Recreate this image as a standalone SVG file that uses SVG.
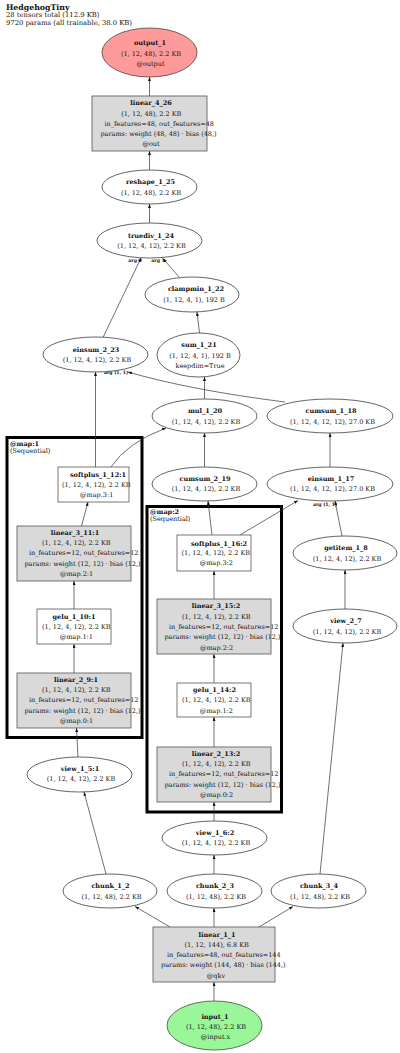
<svg xmlns="http://www.w3.org/2000/svg" width="400" height="1053" viewBox="0 0 400 1053">
<style>
text{font-family:"DejaVu Serif","Liberation Serif",serif;font-size:6.5px;fill:#111;text-anchor:middle}
.b{font-weight:bold}
.h{text-anchor:start}
.lbl{font-size:4.6px;font-weight:bold}
.el{fill:#fff;stroke:#222;stroke-width:0.7}
.bx{fill:#fff;stroke:#555;stroke-width:0.8}
.gr{fill:#d9d9d9;stroke:#555;stroke-width:0.8}
.cl{fill:none;stroke:#000;stroke-width:3}
.ed{fill:none;stroke:#333;stroke-width:0.7;marker-end:url(#ah)}
</style>
<defs>
<marker id="ah" viewBox="0 0 8 6" markerWidth="4" markerHeight="3" refX="8" refY="3" orient="auto" markerUnits="userSpaceOnUse">
<path d="M0,0 L8,3 L0,6 z" fill="#111"/>
</marker>
</defs>
<rect width="400" height="1053" fill="#fff"/>
<g id="title">
<text class="b h" x="6" y="9.5" style="font-size:7.8px">HedgehogTiny</text>
<text class="h" x="6" y="17" style="font-size:6.8px">28 tensors total (112.9 KB)</text>
<text class="h" x="6" y="24.5" style="font-size:6.8px">9720 params (all trainable, 38.0 KB)</text>
</g>
<g id="cluster_map1">
<rect class="cl" x="7" y="437.5" width="135" height="300"/>
<text class="b h" x="10" y="445.5">@map:1</text>
<text class="h" x="10" y="453">(Sequential)</text>
</g>
<g id="cluster_map2">
<rect class="cl" x="147" y="506.5" width="134.5" height="305.5"/>
<text class="b h" x="150" y="513.5">@map:2</text>
<text class="h" x="150" y="521">(Sequential)</text>
</g>
<g id="connectors">
<path class="ed" d="M149.5,96 L149.5,77"/>
<path class="ed" d="M149.5,170 L149.5,151"/>
<path class="ed" d="M149.5,223 L149.5,204"/>
<path class="ed" d="M179,277 L163,258.5"/>
<path class="ed" d="M103,337.5 L141,258"/>
<path class="ed" d="M199.5,333 L197,312"/>
<path class="ed" d="M204.5,399 L204.5,377"/>
<path class="ed" d="M285,402 Q190,390 128,372"/>
<path class="ed" d="M204.5,467 L204.5,433"/>
<path class="ed" d="M330,467 L330,433"/>
<path class="ed" d="M95.5,467 L95.5,372"/>
<path class="ed" d="M111,467 Q127,442.5 166,428"/>
<path class="ed" d="M81.5,526 L88,502"/>
<path class="ed" d="M74,609 L74,581"/>
<path class="ed" d="M74,673 L74,644"/>
<path class="ed" d="M78,757 L76.5,728"/>
<path class="ed" d="M106,874 L84,792"/>
<path class="ed" d="M170,927 L135,906.5"/>
<path class="ed" d="M214,927 L214,908"/>
<path class="ed" d="M259,927 L293,906.5"/>
<path class="ed" d="M214,1001 L214,982"/>
<path class="ed" d="M214,874 L214,855"/>
<path class="ed" d="M214,821 L214,802"/>
<path class="ed" d="M214,747 L214,717"/>
<path class="ed" d="M214,683 L214,654"/>
<path class="ed" d="M214,599 L214,571"/>
<path class="ed" d="M212,535 L208,501"/>
<path class="ed" d="M240,535 L298,500.5"/>
<path class="ed" d="M342,536 L335,501"/>
<path class="ed" d="M345,609 L345,570"/>
<path class="ed" d="M320,874 L343,643"/>
<text class="lbl" x="135" y="262">arg 0</text>
<text class="lbl" x="158" y="262">arg 1</text>
<text class="lbl" x="116" y="374">arg (1, 1)</text>
<text class="lbl" x="325" y="506">arg (1, 1)</text>
</g>
<g id="output_1">
<ellipse cx="149.5" cy="52.5" rx="47.5" ry="24.5" fill="#ff9a9a" stroke="#333" stroke-width="0.7"/>
<text class="b" x="150" y="44.7">output_1</text>
<text x="151" y="55.7">(1, 12, 48), 2.2 KB</text>
<text x="150.5" y="65.7">@output</text>
</g>
<g id="linear_4_26">
<rect class="gr" x="92" y="96" width="115" height="55"/>
<text class="b" x="151" y="105">linear_4_26</text>
<text x="151.3" y="115.7">(1, 12, 48), 2.2 KB</text>
<text x="159.2" y="125.7">in_features=48, out_features=48</text>
<text x="158.5" y="135.7">params: weight (48, 48) · bias (48,)</text>
<text x="151" y="146.2">@out</text>
</g>
<g id="reshape_1_25">
<ellipse class="el" cx="149.5" cy="187" rx="47.5" ry="17"/>
<text class="b" x="150.5" y="183.5">reshape_1_25</text>
<text x="151" y="194.5">(1, 12, 48), 2.2 KB</text>
</g>
<g id="truediv_1_24">
<ellipse class="el" cx="149.5" cy="240.5" rx="52.5" ry="17.5"/>
<text class="b" x="151" y="237.5">truediv_1_24</text>
<text x="151.5" y="247.5">(1, 12, 4, 12), 2.2 KB</text>
</g>
<g id="clampmin_1_22">
<ellipse class="el" cx="192" cy="294.5" rx="47" ry="17.5"/>
<text class="b" x="196" y="290.8">clampmin_1_22</text>
<text x="194" y="301.5">(1, 12, 4, 1), 192 B</text>
</g>
<g id="sum_1_21">
<ellipse class="el" cx="198.5" cy="355" rx="41.5" ry="22"/>
<text class="b" x="199" y="346.7">sum_1_21</text>
<text x="200" y="357.5">(1, 12, 4, 1), 192 B</text>
<text x="200" y="367.7">keepdim=True</text>
</g>
<g id="einsum_2_23">
<ellipse class="el" cx="95.5" cy="354.5" rx="52.5" ry="17.5"/>
<text class="b" x="96" y="351.5">einsum_2_23</text>
<text x="97" y="361.5">(1, 12, 4, 12), 2.2 KB</text>
</g>
<g id="mul_1_20">
<ellipse class="el" cx="204.5" cy="416" rx="52.5" ry="17"/>
<text class="b" x="205" y="412.5">mul_1_20</text>
<text x="206" y="423.5">(1, 12, 4, 12), 2.2 KB</text>
</g>
<g id="cumsum_1_18">
<ellipse class="el" cx="330" cy="416" rx="63" ry="17"/>
<text class="b" x="331" y="412.5">cumsum_1_18</text>
<text x="332.5" y="423.5">(1, 12, 4, 12, 12), 27.0 KB</text>
</g>
<g id="cumsum_2_19">
<ellipse class="el" cx="204.5" cy="484" rx="52.5" ry="17"/>
<text class="b" x="205" y="480.5">cumsum_2_19</text>
<text x="206" y="491">(1, 12, 4, 12), 2.2 KB</text>
</g>
<g id="einsum_1_17">
<ellipse class="el" cx="330" cy="484" rx="63" ry="17"/>
<text class="b" x="331" y="480.5">einsum_1_17</text>
<text x="332.5" y="491">(1, 12, 4, 12, 12), 27.0 KB</text>
</g>
<g id="softplus_1_12_1">
<rect class="bx" x="58" y="467" width="71" height="35"/>
<text class="b" x="98" y="476.5">softplus_1_12:1</text>
<text x="96.3" y="487">(1, 12, 4, 12), 2.2 KB</text>
<text x="96.7" y="497">@map.3:1</text>
</g>
<g id="linear_3_11_1">
<rect class="gr" x="17" y="526" width="114" height="55"/>
<text class="b" x="75" y="534.5">linear_3_11:1</text>
<text x="76.3" y="544.8">(1, 12, 4, 12), 2.2 KB</text>
<text x="83.7" y="555.3">in_features=12, out_features=12</text>
<text x="82.5" y="565.5">params: weight (12, 12) · bias (12,)</text>
<text x="76.5" y="575.7">@map.2:1</text>
</g>
<g id="gelu_1_10_1">
<rect class="bx" x="37" y="609" width="74" height="35"/>
<text class="b" x="74" y="618.5">gelu_1_10:1</text>
<text x="76.3" y="628.8">(1, 12, 4, 12), 2.2 KB</text>
<text x="76.3" y="639.3">@map.1:1</text>
</g>
<g id="linear_2_9_1">
<rect class="gr" x="17" y="673" width="114" height="55"/>
<text class="b" x="76" y="681.5">linear_2_9:1</text>
<text x="76.3" y="692">(1, 12, 4, 12), 2.2 KB</text>
<text x="83.7" y="702.3">in_features=12, out_features=12</text>
<text x="82.5" y="712.5">params: weight (12, 12) · bias (12,)</text>
<text x="76.5" y="722.7">@map.0:1</text>
</g>
<g id="view_1_5_1">
<ellipse class="el" cx="79.5" cy="774.5" rx="52.5" ry="17.5"/>
<text class="b" x="80" y="770.5">view_1_5:1</text>
<text x="81" y="780.7">(1, 12, 4, 12), 2.2 KB</text>
</g>
<g id="softplus_1_16_2">
<rect class="bx" x="177" y="535" width="74" height="36"/>
<text class="b" x="219" y="545.5">softplus_1_16:2</text>
<text x="215.8" y="555">(1, 12, 4, 12), 2.2 KB</text>
<text x="216.3" y="565.3">@map.3:2</text>
</g>
<g id="getitem_1_8">
<ellipse class="el" cx="345" cy="553" rx="52" ry="17"/>
<text class="b" x="346" y="549.5">getitem_1_8</text>
<text x="347" y="560.5">(1, 12, 4, 12), 2.2 KB</text>
</g>
<g id="view_2_7">
<ellipse class="el" cx="345" cy="626" rx="52" ry="17"/>
<text class="b" x="346" y="623.3">view_2_7</text>
<text x="347" y="633.5">(1, 12, 4, 12), 2.2 KB</text>
</g>
<g id="linear_3_15_2">
<rect class="gr" x="157" y="599" width="114" height="55"/>
<text class="b" x="216" y="608.3">linear_3_15:2</text>
<text x="216.3" y="618.5">(1, 12, 4, 12), 2.2 KB</text>
<text x="223.7" y="629">in_features=12, out_features=12</text>
<text x="222.5" y="639.3">params: weight (12, 12) · bias (12,)</text>
<text x="216.5" y="649.5">@map.2:2</text>
</g>
<g id="gelu_1_14_2">
<rect class="bx" x="177" y="683" width="74" height="34"/>
<text class="b" x="214.5" y="691.5">gelu_1_14:2</text>
<text x="216.3" y="702.3">(1, 12, 4, 12), 2.2 KB</text>
<text x="216.3" y="712.5">@map.1:2</text>
</g>
<g id="linear_2_13_2">
<rect class="gr" x="157" y="747" width="114" height="55"/>
<text class="b" x="216" y="755.5">linear_2_13:2</text>
<text x="216.3" y="766">(1, 12, 4, 12), 2.2 KB</text>
<text x="223.7" y="776.3">in_features=12, out_features=12</text>
<text x="222.5" y="786.5">params: weight (12, 12) · bias (12,)</text>
<text x="216.5" y="796.7">@map.0:2</text>
</g>
<g id="view_1_6_2">
<ellipse class="el" cx="214.5" cy="838" rx="52.5" ry="17"/>
<text class="b" x="215" y="834.7">view_1_6:2</text>
<text x="216" y="845">(1, 12, 4, 12), 2.2 KB</text>
</g>
<g id="chunk_1_2">
<ellipse class="el" cx="110" cy="891" rx="47" ry="17"/>
<text class="b" x="110.5" y="888">chunk_1_2</text>
<text x="111.5" y="898.5">(1, 12, 48), 2.2 KB</text>
</g>
<g id="chunk_2_3">
<ellipse class="el" cx="214.5" cy="891" rx="47.5" ry="17"/>
<text class="b" x="215" y="888">chunk_2_3</text>
<text x="216" y="898.5">(1, 12, 48), 2.2 KB</text>
</g>
<g id="chunk_3_4">
<ellipse class="el" cx="318.5" cy="891" rx="47.5" ry="17"/>
<text class="b" x="319" y="888">chunk_3_4</text>
<text x="320" y="898.5">(1, 12, 48), 2.2 KB</text>
</g>
<g id="linear_1_1">
<rect class="gr" x="153" y="927" width="122" height="55"/>
<text class="b" x="217" y="936.5">linear_1_1</text>
<text x="216.7" y="946.8">(1, 12, 144), 6.8 KB</text>
<text x="223.8" y="957">in_features=48, out_features=144</text>
<text x="223.3" y="967.3">params: weight (144, 48) · bias (144,)</text>
<text x="216" y="977.5">@qkv</text>
</g>
<g id="input_1">
<ellipse cx="214.5" cy="1025.5" rx="47.5" ry="24.5" fill="#99f799" stroke="#333" stroke-width="0.7"/>
<text class="b" x="215" y="1018.5">input_1</text>
<text x="216" y="1028.5">(1, 12, 48), 2.2 KB</text>
<text x="215.5" y="1038.5">@input.x</text>
</g>
</svg>
